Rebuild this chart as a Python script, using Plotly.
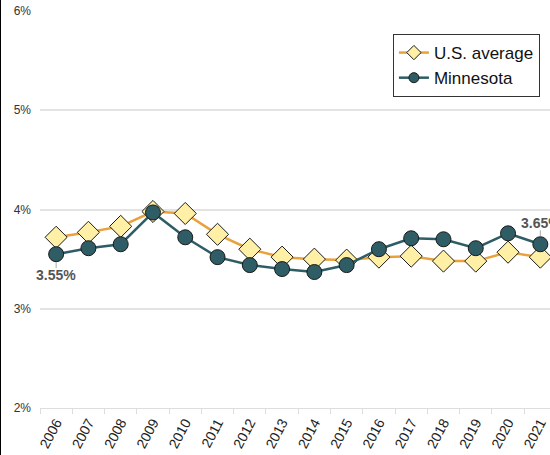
import plotly.graph_objects as go

years = [str(y) for y in range(2006, 2022)]
us_average = [3.72, 3.77, 3.83, 3.98, 3.96, 3.75, 3.60, 3.52, 3.50, 3.49, 3.52, 3.53, 3.48, 3.48, 3.57, 3.52]
minnesota = [3.55, 3.61, 3.65, 3.97, 3.72, 3.52, 3.44, 3.40, 3.37, 3.44, 3.60, 3.71, 3.70, 3.61, 3.76, 3.65]
y_ticks = [2, 3, 4, 5, 6]
y_tick_labels = ["2%", "3%", "4%", "5%", "6%"]

FONT = "Liberation Sans, Arial, sans-serif"
US_LINE = "#E9A23B"
US_FILL = "#FFF0A5"
MN_COL = "#2F5D66"

fig = go.Figure()
fig.add_trace(go.Scatter(
    x=years, y=us_average, name="U.S. average", mode="lines+markers", showlegend=False,
    line=dict(color=US_LINE, width=2.5),
    marker=dict(symbol="diamond", size=17, color=US_FILL, line=dict(color="#1a1a1a", width=1)),
))
fig.add_trace(go.Scatter(
    x=years, y=minnesota, name="Minnesota", mode="lines+markers", showlegend=False,
    line=dict(color=MN_COL, width=2.5),
    marker=dict(symbol="circle", size=15, color=MN_COL, line=dict(color="#1a1a1a", width=1)),
))
# legend entries (smaller symbols, as in the reference legend)
fig.add_trace(go.Scatter(
    x=[None], y=[None], name="U.S. average", mode="lines+markers",
    line=dict(color=US_LINE, width=2.5),
    marker=dict(symbol="diamond", size=11, color=US_FILL, line=dict(color="#1a1a1a", width=1)),
))
fig.add_trace(go.Scatter(
    x=[None], y=[None], name="Minnesota", mode="lines+markers",
    line=dict(color=MN_COL, width=2.5),
    marker=dict(symbol="circle", size=10, color=MN_COL, line=dict(color="#1a1a1a", width=1)),
))

first_i, last_i = 0, len(years) - 1
fig.add_annotation(x=first_i, y=minnesota[first_i], text="<b>%.2f%%</b>" % minnesota[first_i],
                   showarrow=False, yshift=-21, yanchor="middle", xanchor="center",
                   font=dict(family=FONT, size=14, color="#555"))
fig.add_shape(type="line", xref="x", yref="y", ysizemode="pixel", yanchor=minnesota[first_i],
              x0=first_i, x1=first_i, y0=-8, y1=-14, line=dict(color="#aaa", width=1))
fig.add_annotation(x=last_i, y=minnesota[last_i], text="<b>%.2f%%</b>" % minnesota[last_i],
                   showarrow=False, yshift=21, yanchor="middle", xanchor="left", xshift=-21,
                   font=dict(family=FONT, size=14, color="#555"))
fig.add_shape(type="line", xref="x", yref="y", ysizemode="pixel", yanchor=minnesota[last_i],
              x0=last_i, x1=last_i, y0=8, y1=14, line=dict(color="#aaa", width=1))

fig.add_shape(type="line", xref="paper", yref="paper", x0=-40/510, x1=-40/510, y0=-0.2, y1=1.1,
              line=dict(color="black", width=2))

fig.update_layout(
    width=550, height=455,
    margin=dict(l=40, r=0, t=11, b=47),
    paper_bgcolor="white", plot_bgcolor="white",
    font=dict(family=FONT, size=12, color="#333"),
    showlegend=True,
    legend=dict(x=0.692, y=0.942, xanchor="left", yanchor="top",
                bordercolor="#333", borderwidth=1, bgcolor="white",
                font=dict(family=FONT, size=17, color="#111"),
                itemwidth=30, tracegroupgap=0),
    xaxis=dict(type="category", range=[-0.5, 15.3], tickson="boundaries",
               ticks="outside", ticklen=5, tickcolor="#ddd",
               showline=True, linecolor="#ddd", linewidth=1,
               showgrid=False, tickangle=-62,
               tickfont=dict(family=FONT, size=14, color="#222")),
    yaxis=dict(range=[2, 6], tickvals=y_ticks, ticktext=y_tick_labels,
               showgrid=True, gridcolor="#e3e3e3", gridwidth=1.5, zeroline=False,
               ticks="", ticklabelstandoff=8,
               tickfont=dict(family=FONT, size=12, color="#333")),
)

fig.write_html("out.html", config={"displayModeBar": False},
               post_script="document.body.style.margin='0px';")
